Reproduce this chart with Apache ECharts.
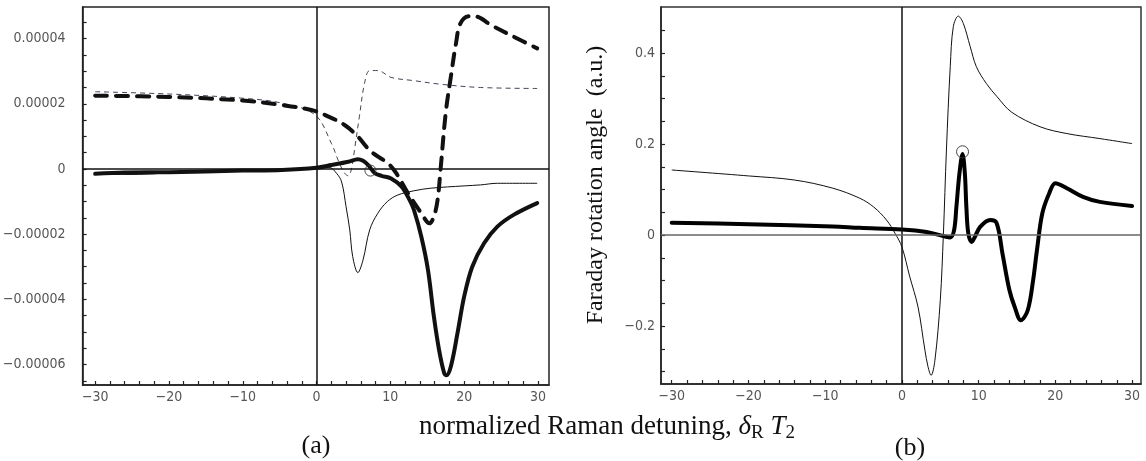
<!DOCTYPE html>
<html><head><meta charset="utf-8">
<script src="https://cdn.jsdelivr.net/npm/echarts@6/dist/echarts.min.js"></script>
<style>html,body{margin:0;padding:0;background:#fff}#c{width:1146px;height:461px}</style>
</head><body><div id="c"></div>
<script>
// ---------- Panel (a) data ----------
const aThinDashX = [-30, -20, -10, -4.7, -0.2, 2.0, 3.1, 3.8, 4.3, 4.7, 5.2, 5.8, 6.5, 7.2, 8.3, 10.1, 13.2, 16.8, 22.2, 29.9];
const aThinDashY = [2.37e-5, 2.30e-5, 2.17e-5, 2.02e-5, 1.66e-5, 0.79e-5, 0.17e-5, -0.13e-5, -0.21e-5, -0.03e-5, 0.68e-5, 1.60e-5, 2.63e-5, 3.02e-5, 3.02e-5, 2.81e-5, 2.71e-5, 2.60e-5, 2.50e-5, 2.47e-5];

const aThickDashX = [-30, -20, -10, -4.7, -0.7, 1.1, 3.8, 5.6, 7.4, 9.7, 10.8, 12.4, 14.2, 15.3, 15.9, 16.4, 16.8, 17.5, 18.2, 18.9, 19.5, 20.7, 21.8, 23.6, 26.7, 29.9];
const aThickDashY = [2.25e-5, 2.21e-5, 2.10e-5, 1.96e-5, 1.81e-5, 1.66e-5, 1.35e-5, 0.99e-5, 0.53e-5, 0.17e-5, -0.13e-5, -0.75e-5, -1.36e-5, -1.67e-5, -1.46e-5, -0.95e-5, -0.03e-5, 1.71e-5, 2.83e-5, 3.86e-5, 4.47e-5, 4.69e-5, 4.67e-5, 4.42e-5, 4.06e-5, 3.70e-5];

const aThickX = [-30, -26, -20, -10, -4.7, 0, 2.0, 4.3, 5.6, 6.3, 7.0, 7.9, 8.8, 10.1, 11.5, 12.6, 13.2, 14.2, 15.1, 15.9, 16.6, 17.3, 17.6, 18.2, 19.1, 20.0, 21.1, 22.7, 24.5, 26.7, 29.9];
const aThickY = [-0.15e-5, -0.11e-5, -0.10e-5, -0.05e-5, -0.03e-5, 0.04e-5, 0.12e-5, 0.22e-5, 0.30e-5, 0.25e-5, 0.12e-5, -0.13e-5, -0.21e-5, -0.29e-5, -0.54e-5, -0.95e-5, -1.26e-5, -2.08e-5, -3.10e-5, -4.53e-5, -5.55e-5, -6.27e-5, -6.33e-5, -6.06e-5, -5.04e-5, -3.92e-5, -3.00e-5, -2.28e-5, -1.77e-5, -1.41e-5, -1.05e-5];

const aThinX = [-30, -26, -22, -20, -10, -4.7, 0, 1.7, 2.7, 3.4, 4.0, 4.5, 4.9, 5.6, 6.3, 7.2, 8.3, 9.6, 11.0, 13.2, 15.5, 20.0, 22.2, 24.5, 29.9];
const aThinY = [-0.17e-5, -0.17e-5, -0.15e-5, -0.10e-5, -0.05e-5, -0.03e-5, 0.02e-5, 0.05e-5, -0.13e-5, -0.40e-5, -1.16e-5, -1.87e-5, -2.69e-5, -3.18e-5, -2.79e-5, -1.87e-5, -1.36e-5, -1.00e-5, -0.80e-5, -0.67e-5, -0.59e-5, -0.52e-5, -0.49e-5, -0.44e-5, -0.44e-5];

const aMarker = [7.3, -0.05e-5];

// ---------- Panel (b) data ----------
const bThinX = [-30, -20, -14, -9, -5.5, -3.7, -2.0, -0.9, 0, 1.0, 2.1, 3.0, 3.4, 3.8, 4.3, 5.0, 5.4, 5.8, 6.3, 6.7, 7.35, 8.0, 8.9, 9.7, 11.0, 12.4, 14.3, 18.0, 21.5, 25.8, 30];
const bThinY = [0.143, 0.130, 0.121, 0.103, 0.081, 0.062, 0.033, 0.004, -0.026, -0.090, -0.158, -0.253, -0.289, -0.308, -0.275, -0.143, 0.000, 0.187, 0.370, 0.458, 0.481, 0.465, 0.414, 0.370, 0.333, 0.304, 0.270, 0.238, 0.223, 0.212, 0.201];

const bThickX = [-30, -20, -9, -5.5, 0, 3.2, 5.4, 6.3, 6.8, 7.1, 7.5, 7.9, 8.2, 8.4, 8.65, 9.1, 9.5, 10.2, 11.5, 12.35, 13.1, 14.0, 14.7, 15.5, 16.4, 17.1, 17.6, 18.3, 19.2, 20.0, 21.5, 23.6, 25.8, 30];
const bThickY = [0.027, 0.024, 0.019, 0.016, 0.0125, 0.007, -0.002, -0.005, 0.011, 0.062, 0.136, 0.178, 0.136, 0.062, 0.004, -0.015, -0.004, 0.018, 0.033, 0.026, -0.040, -0.120, -0.158, -0.187, -0.165, -0.099, -0.033, 0.048, 0.092, 0.114, 0.103, 0.084, 0.073, 0.064];

const bMarker = [7.9, 0.183];

// ---------- tick values ----------
const xLabelValues = [-30, -20, -10, 0, 10, 20, 30];
const xTickValues = [-30, -28, -26, -24, -22, -20, -18, -16, -14, -12, -10, -8, -6, -4, -2, 0, 2, 4, 6, 8, 10, 12, 14, 16, 18, 20, 22, 24, 26, 28, 30];
const aYLabelValues = [-6e-5, -4e-5, -2e-5, 0, 2e-5, 4e-5];
const aYTickValues = [-6.5e-5, -6e-5, -5.5e-5, -5e-5, -4.5e-5, -4e-5, -3.5e-5, -3e-5, -2.5e-5, -2e-5, -1.5e-5, -1e-5, -0.5e-5, 0, 0.5e-5, 1e-5, 1.5e-5, 2e-5, 2.5e-5, 3e-5, 3.5e-5, 4e-5, 4.5e-5];
const bYLabelValues = [-0.2, 0, 0.2, 0.4];
const bYTickValues = [-0.3, -0.25, -0.2, -0.15, -0.1, -0.05, 0, 0.05, 0.1, 0.15, 0.2, 0.25, 0.3, 0.35, 0.4, 0.45];

const xTitle = '{n|normalized Raman detuning, }{i|δ}{s|R}{n| }{i|T}{s|2}';
const yTitleB = 'Faraday rotation angle  (a.u.)';
const panelLabels = ['(a)', '(b)'];

// ---------- chart ----------
const pairs = (xs, ys) => xs.map((x, i) => [x, ys[i]]);
const minus = s => s.replace('-', '\u2212');
const tickFont = "'DejaVu Sans Condensed','DejaVu Sans',sans-serif";
const serif = "'Liberation Serif','Times New Roman',serif";
const axisLineStyle = { color: '#222', width: 1.5 };

function xAxisCfg(gridIndex, min, max) {
  return {
    type: 'value', gridIndex, min, max,
    splitLine: { show: false },
    axisLine: { show: true, onZero: false, lineStyle: axisLineStyle },
    axisTick: { show: true, inside: true, length: 4, lineStyle: { color: '#222', width: 1.2 }, customValues: xTickValues },
    axisLabel: { customValues: xLabelValues, margin: 5, fontFamily: tickFont, fontSize: 14, color: '#555',
      formatter: v => minus(String(v)) }
  };
}
function yAxisCfg(gridIndex, min, max, ticks, labels, fmt, margin) {
  return {
    type: 'value', gridIndex, min, max,
    splitLine: { show: false },
    axisLine: { show: true, onZero: false, lineStyle: axisLineStyle },
    axisTick: { show: true, inside: true, length: 4, lineStyle: { color: '#222', width: 1.2 }, customValues: ticks },
    axisLabel: { customValues: labels, margin, fontFamily: tickFont, fontSize: 14, color: '#555', formatter: fmt }
  };
}
const zeroLines = (hColor) => ({
  silent: true, symbol: 'none', label: { show: false }, animation: false,
  data: [
    { xAxis: 0, lineStyle: { color: '#111', width: 1.5, type: 'solid' } },
    { yAxis: 0, lineStyle: { color: hColor, width: 1.5, type: 'solid' } }
  ]
});

const chart = echarts.init(document.getElementById('c'), null, { renderer: 'canvas' });
chart.setOption({
  animation: false,
  backgroundColor: '#fff',
  grid: [
    { left: 80, top: 7, width: 469, height: 378, show: true, borderColor: '#222', borderWidth: 1.5, backgroundColor: 'transparent' },
    { left: 661, top: 7, width: 480, height: 377, show: true, borderColor: '#333', borderWidth: 1.5, backgroundColor: 'transparent' }
  ],
  xAxis: [xAxisCfg(0, -31.7, 31.5), xAxisCfg(1, -31.4, 31.16)],
  yAxis: [
    yAxisCfg(0, -6.63e-5, 4.97e-5, aYTickValues, aYLabelValues,
      v => v === 0 ? '0' : (v < 0 ? '\u2212' : '') + Math.abs(v).toFixed(5), 17),
    yAxisCfg(1, -0.327, 0.501, bYTickValues, bYLabelValues,
      v => v === 0 ? '0' : (v < 0 ? '\u2212' : '') + Math.abs(v).toFixed(1), 6)
  ],
  series: [
    { type: 'line', xAxisIndex: 0, yAxisIndex: 0, data: pairs(aThinDashX, aThinDashY), showSymbol: false, smooth: 0.35,
      lineStyle: { color: '#445', width: 1, type: [5, 4] }, markLine: zeroLines('#111'), z: 3 },
    { type: 'line', xAxisIndex: 0, yAxisIndex: 0, data: pairs(aThinX, aThinY), showSymbol: false, smooth: 0.35,
      lineStyle: { color: '#111', width: 1 }, z: 3 },
    { type: 'line', xAxisIndex: 0, yAxisIndex: 0, data: pairs(aThickX, aThickY), showSymbol: false, smooth: 0.35,
      lineStyle: { color: '#111', width: 4, cap: 'round', join: 'round' }, z: 4 },
    { type: 'line', xAxisIndex: 0, yAxisIndex: 0, data: pairs(aThickDashX, aThickDashY), showSymbol: false, smooth: 0.35,
      lineStyle: { color: '#111', width: 4, type: [12, 9], cap: 'round' }, z: 5 },
    { type: 'scatter', xAxisIndex: 0, yAxisIndex: 0, data: [aMarker], symbol: 'circle', symbolSize: 11,
      itemStyle: { color: 'rgba(255,255,255,0)', borderColor: '#333', borderWidth: 0.9, opacity: 1 }, z: 6 },

    { type: 'line', xAxisIndex: 1, yAxisIndex: 1, data: pairs(bThinX, bThinY), showSymbol: false, smooth: 0.35,
      lineStyle: { color: '#111', width: 1 }, markLine: zeroLines('#666'), z: 3 },
    { type: 'line', xAxisIndex: 1, yAxisIndex: 1, data: pairs(bThickX, bThickY), showSymbol: false, smooth: 0.35,
      lineStyle: { color: '#000', width: 4, cap: 'round', join: 'round' }, z: 4 },
    { type: 'scatter', xAxisIndex: 1, yAxisIndex: 1, data: [bMarker], symbol: 'circle', symbolSize: 12,
      itemStyle: { color: 'rgba(255,255,255,0)', borderColor: '#333', borderWidth: 0.9, opacity: 1 }, z: 6 }
  ],
  graphic: [
    { type: 'text', x: 607, y: 427, style: { text: xTitle, align: 'center', verticalAlign: 'middle',
      rich: {
        n: { fontFamily: serif, fontSize: 27, fill: '#111', lineHeight: 30 },
        i: { fontFamily: serif, fontSize: 27, fontStyle: 'italic', fill: '#111', lineHeight: 30 },
        s: { fontFamily: serif, fontSize: 19, fill: '#111', padding: [12, 0, 0, 0] }
      } } },
    { type: 'text', x: 596, y: 185, rotation: Math.PI / 2, style: { text: yTitleB, align: 'center', verticalAlign: 'middle',
      fontFamily: serif, fontSize: 24, fill: '#111' } },
    { type: 'text', x: 316, y: 446, style: { text: panelLabels[0], align: 'center', verticalAlign: 'middle', fontFamily: serif, fontSize: 26, fill: '#111' } },
    { type: 'text', x: 910, y: 448, style: { text: panelLabels[1], align: 'center', verticalAlign: 'middle', fontFamily: serif, fontSize: 26, fill: '#111' } }
  ]
});
</script></body></html>
